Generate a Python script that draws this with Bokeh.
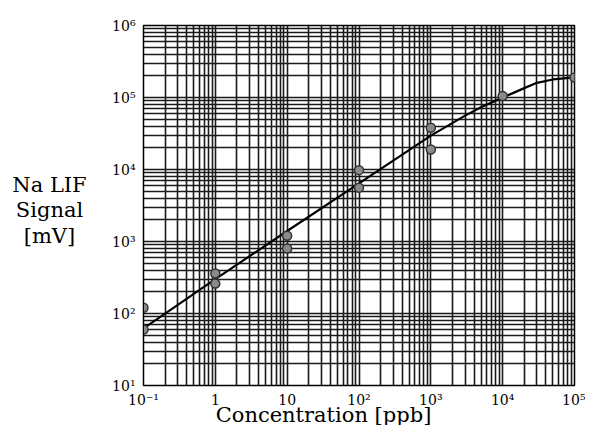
from bokeh.plotting import figure
from bokeh.models import FixedTicker, CustomJSTickFormatter, Label
from bokeh.embed import file_html
from bokeh.resources import INLINE

# ---- data ----
conc_points = [0.1, 0.1, 1.0, 1.0, 10, 10, 100, 100, 1000, 1000, 1e4, 1e5]
signal_points = [120, 60, 360, 260, 1200, 800, 9800, 5600, 38000, 19000, 105000, 190000]

conc_fit = [0.1, 1, 10, 100, 1000, 3000, 5000, 1e4, 2e4, 3e4, 5e4, 1e5]
signal_fit = [62, 300, 1400, 6400, 29500, 56000, 73000, 100000, 135000, 160000, 178000, 190000]

x_decades = [-1, 0, 1, 2, 3, 4, 5]
x_tick_labels = ["10\u207b\u00b9", "1", "10", "10\u00b2", "10\u00b3", "10\u2074", "10\u2075"]
y_decades = [1, 2, 3, 4, 5, 6]
y_tick_labels = ["10\u00b9", "10\u00b2", "10\u00b3", "10\u2074", "10\u2075", "10\u2076"]

x_title = "Concentration [ppb]"
y_title = "Na LIF\nSignal\n[mV]"

SERIF = "DejaVu Serif"

p = figure(width=585, height=425, x_axis_type="log", y_axis_type="log",
           x_range=(0.1, 1e5), y_range=(10, 1e6),
           output_backend="svg", toolbar_location=None,
           min_border_left=143, min_border_right=11,
           min_border_top=25, min_border_bottom=40)

def ticks_for(decades):
    major = [10.0 ** d for d in decades]
    minor = [m * 10.0 ** d for d in decades[:-1] for m in range(2, 10)]
    return FixedTicker(ticks=major, minor_ticks=minor)

p.xaxis.ticker = ticks_for(x_decades)
p.yaxis.ticker = ticks_for(y_decades)
p.xaxis.formatter = CustomJSTickFormatter(
    args=dict(labels=x_tick_labels, first=x_decades[0]),
    code="return labels[Math.round(Math.log10(tick)) - first];")
p.yaxis.formatter = CustomJSTickFormatter(
    args=dict(labels=y_tick_labels, first=y_decades[0]),
    code="return labels[Math.round(Math.log10(tick)) - first];")

for ax in (p.xaxis, p.yaxis):
    ax.major_label_text_font = SERIF
    ax.major_label_text_font_size = "14px"
    ax.major_label_text_color = "black"
    ax.axis_line_color = "black"
    ax.major_tick_in = 0
    ax.major_tick_out = 0
    ax.minor_tick_in = 0
    ax.minor_tick_out = 0
p.xaxis.major_label_standoff = 6
p.yaxis.major_label_standoff = 8
p.yaxis.major_label_text_baseline = "alphabetic"

for g in (p.xgrid, p.ygrid):
    g.grid_line_color = "#1a1a1a"
    g.grid_line_width = 1.6
    g.grid_line_alpha = 1.0
    g.minor_grid_line_color = "#1a1a1a"
    g.minor_grid_line_width = 1.6

p.outline_line_color = "black"
p.outline_line_width = 1.5

p.line(conc_fit, signal_fit, line_color="black", line_width=2.2)
p.scatter(conc_points, signal_points, marker="circle", size=9,
          fill_color="#8a8a8a", line_color="#333333", line_width=1.5)

# titles are positioned from the frame corner (x=0.1, y=10) with pixel offsets
p.add_layout(Label(x=0.1, y=10, x_offset=180, y_offset=-29, text=x_title,
                   text_font=SERIF, text_font_size="21px", text_color="black",
                   text_align="center", text_baseline="middle"), "above")
p.add_layout(Label(x=0.1, y=10, x_offset=-94, y_offset=175, text=y_title,
                   text_font=SERIF, text_font_size="21px", text_color="black",
                   text_align="center", text_baseline="middle",
                   text_line_height=1.07), "left")

open("out.html", "w").write(file_html(p, INLINE))
